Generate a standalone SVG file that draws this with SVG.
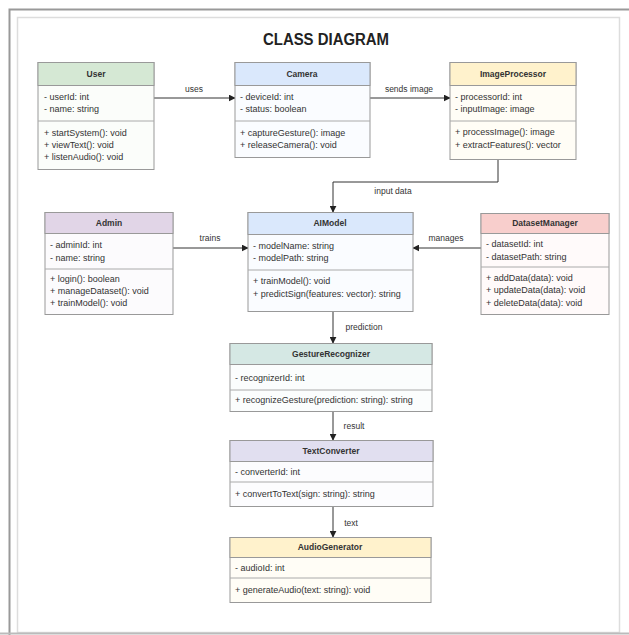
<svg xmlns="http://www.w3.org/2000/svg" width="629" height="635" viewBox="0 0 629 635">
<defs>
<marker id="arr" viewBox="0 0 10 10" refX="9" refY="5" markerWidth="7" markerHeight="7" orient="auto" markerUnits="userSpaceOnUse">
<path d="M0,0 L10,5 L0,10 z" fill="#222"/>
</marker>
<style>
.box{stroke:#999;stroke-width:1}
.sep{stroke:#aaa;stroke-width:1}
.hd{font-family:"Liberation Sans",Arial,sans-serif;font-size:8.5px;font-weight:bold;fill:#333;text-anchor:middle}
.tx{font-family:"Liberation Sans",Arial,sans-serif;font-size:9px;fill:#333}
.lb{font-family:"Liberation Sans",Arial,sans-serif;font-size:8.5px;fill:#333;text-anchor:middle}
.ln{stroke:#333;stroke-width:1;fill:none;marker-end:url(#arr)}
.title{font-family:"Liberation Sans",Arial,sans-serif;font-size:16px;font-weight:bold;fill:#222;text-anchor:middle}
</style>
</defs>
<rect x="0" y="0" width="629" height="635" fill="#fff"/>
<rect x="9.5" y="9.5" width="640" height="640" fill="none" stroke="#999" stroke-width="2"/>
<rect x="17.5" y="17.5" width="602" height="615" fill="#fff" stroke="#ddd" stroke-width="1.5"/>
<line x1="0" y1="633.5" x2="629" y2="633.5" stroke="#bbb" stroke-width="2"/>
<text class="title" x="326" y="45" textLength="126" lengthAdjust="spacingAndGlyphs">CLASS DIAGRAM</text>

<g id="connectors">
<path class="ln" d="M154,98 L235,98"/>
<text class="lb" x="194" y="92">uses</text>
<path class="ln" d="M370,98 L450,98"/>
<text class="lb" x="409" y="92">sends image</text>
<path class="ln" d="M498,159 L498,182 L333,182 L333,212"/>
<text class="lb" x="393" y="194">input data</text>
<path class="ln" d="M173,248 L248,248"/>
<text class="lb" x="210" y="241">trains</text>
<path class="ln" d="M481,248 L413,248"/>
<text class="lb" x="446" y="241">manages</text>
<path class="ln" d="M333,312 L333,343"/>
<text class="lb" x="364" y="330">prediction</text>
<path class="ln" d="M333,411 L333,440"/>
<text class="lb" x="354" y="429">result</text>
<path class="ln" d="M333,506 L333,537"/>
<text class="lb" x="351" y="526">text</text>
</g>

<g id="User">
<rect class="box" x="38" y="62.5" width="116" height="107" fill="#fbfdfa"/>
<rect class="box" x="38" y="62.5" width="116" height="23" fill="#d5e8d4"/>
<line class="sep" x1="38" y1="121" x2="154" y2="121"/>
<text class="hd" x="96" y="77">User</text>
<text class="tx" x="44" y="100">- userId: int</text>
<text class="tx" x="44" y="112">- name: string</text>
<text class="tx" x="44" y="136">+ startSystem(): void</text>
<text class="tx" x="44" y="148">+ viewText(): void</text>
<text class="tx" x="44" y="160">+ listenAudio(): void</text>
</g>

<g id="Camera">
<rect class="box" x="235" y="62.5" width="135" height="95" fill="#fafcff"/>
<rect class="box" x="235" y="62.5" width="135" height="23" fill="#dae8fc"/>
<line class="sep" x1="235" y1="121" x2="370" y2="121"/>
<text class="hd" x="302" y="77">Camera</text>
<text class="tx" x="240" y="100">- deviceId: int</text>
<text class="tx" x="240" y="112">- status: boolean</text>
<text class="tx" x="240" y="136">+ captureGesture(): image</text>
<text class="tx" x="240" y="148">+ releaseCamera(): void</text>
</g>

<g id="ImageProcessor">
<rect class="box" x="450" y="62.5" width="126" height="97" fill="#fffdf6"/>
<rect class="box" x="450" y="62.5" width="126" height="23" fill="#fff2cc"/>
<line class="sep" x1="450" y1="121" x2="576" y2="121"/>
<text class="hd" x="513" y="77">ImageProcessor</text>
<text class="tx" x="455" y="100">- processorId: int</text>
<text class="tx" x="455" y="112">- inputImage: image</text>
<text class="tx" x="455" y="135">+ processImage(): image</text>
<text class="tx" x="455" y="148">+ extractFeatures(): vector</text>
</g>

<g id="Admin">
<rect class="box" x="45" y="212.5" width="128" height="102" fill="#fcfbfd"/>
<rect class="box" x="45" y="212.5" width="128" height="21" fill="#e1d5e7"/>
<line class="sep" x1="45" y1="269" x2="173" y2="269"/>
<text class="hd" x="109" y="226">Admin</text>
<text class="tx" x="50" y="248">- adminId: int</text>
<text class="tx" x="50" y="261">- name: string</text>
<text class="tx" x="50" y="282">+ login(): boolean</text>
<text class="tx" x="50" y="294">+ manageDataset(): void</text>
<text class="tx" x="50" y="306">+ trainModel(): void</text>
</g>

<g id="AIModel">
<rect class="box" x="248" y="212.5" width="165" height="99" fill="#fafcff"/>
<rect class="box" x="248" y="212.5" width="165" height="22" fill="#dae8fc"/>
<line class="sep" x1="248" y1="270" x2="413" y2="270"/>
<text class="hd" x="330" y="226">AIModel</text>
<text class="tx" x="253" y="249">- modelName: string</text>
<text class="tx" x="253" y="261">- modelPath: string</text>
<text class="tx" x="253" y="284">+ trainModel(): void</text>
<text class="tx" x="253" y="297">+ predictSign(features: vector): string</text>
</g>

<g id="DatasetManager">
<rect class="box" x="481" y="213.5" width="128" height="101" fill="#fffafa"/>
<rect class="box" x="481" y="213.5" width="128" height="20" fill="#f8cecc"/>
<line class="sep" x1="481" y1="267" x2="609" y2="267"/>
<text class="hd" x="545" y="226">DatasetManager</text>
<text class="tx" x="486" y="247">- datasetId: int</text>
<text class="tx" x="486" y="260">- datasetPath: string</text>
<text class="tx" x="486" y="281">+ addData(data): void</text>
<text class="tx" x="486" y="293">+ updateData(data): void</text>
<text class="tx" x="486" y="306">+ deleteData(data): void</text>
</g>

<g id="GestureRecognizer">
<rect class="box" x="230" y="343.5" width="202" height="68" fill="#fbfdfd"/>
<rect class="box" x="230" y="343.5" width="202" height="21" fill="#d5e8e4"/>
<line class="sep" x1="230" y1="390" x2="432" y2="390"/>
<text class="hd" x="331" y="357">GestureRecognizer</text>
<text class="tx" x="235" y="381">- recognizerId: int</text>
<text class="tx" x="235" y="403">+ recognizeGesture(prediction: string): string</text>
</g>

<g id="TextConverter">
<rect class="box" x="230" y="440.5" width="203" height="66" fill="#fcfcfe"/>
<rect class="box" x="230" y="440.5" width="203" height="21" fill="#e1dff0"/>
<line class="sep" x1="230" y1="482" x2="433" y2="482"/>
<text class="hd" x="331" y="454">TextConverter</text>
<text class="tx" x="235" y="475">- converterId: int</text>
<text class="tx" x="235" y="497">+ convertToText(sign: string): string</text>
</g>

<g id="AudioGenerator">
<rect class="box" x="230" y="537.5" width="201" height="65" fill="#fffdf6"/>
<rect class="box" x="230" y="537.5" width="201" height="20" fill="#fff2cc"/>
<line class="sep" x1="230" y1="578" x2="431" y2="578"/>
<text class="hd" x="330" y="550">AudioGenerator</text>
<text class="tx" x="235" y="571">- audioId: int</text>
<text class="tx" x="235" y="593">+ generateAudio(text: string): void</text>
</g>
</svg>
